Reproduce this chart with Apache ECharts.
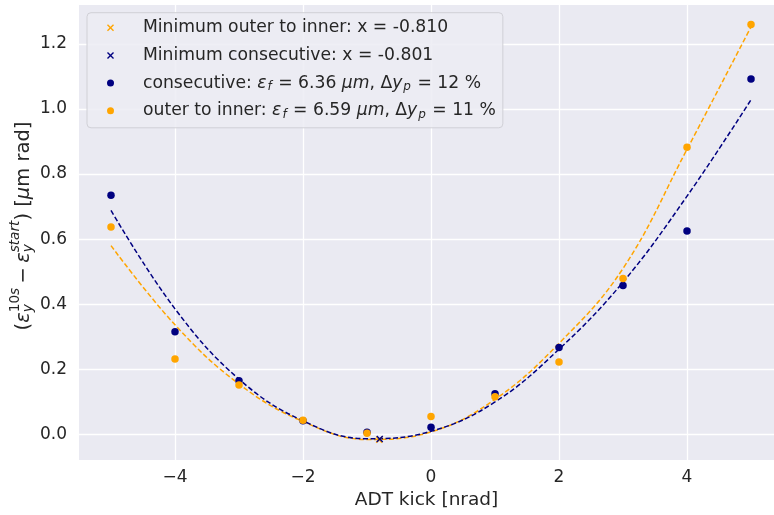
<!DOCTYPE html>
<html>
<head>
<meta charset="utf-8">
<script src="https://cdn.jsdelivr.net/npm/echarts@6/dist/echarts.min.js"></script>
<style>
  html, body { margin: 0; padding: 0; background: #fff; }
  #chart { width: 774px; height: 515px; }
</style>
</head>
<body>
<div id="chart"></div>
<script>
// kick values and measured emittance growth
const kicks = [-5, -4, -3, -2, -1, 0, 1, 2, 3, 4, 5];
const consecutivePts = [0.735, 0.316, 0.165, 0.042, 0.007, 0.022, 0.125, 0.267, 0.458, 0.625, 1.092];
const outerPts = [0.637, 0.232, 0.152, 0.044, 0.004, 0.055, 0.116, 0.223, 0.479, 0.882, 1.259];

// fitted curves
const fitX = [-5, -4, -3, -2, -1, 0, 1, 2, 3, 4, 5];
const consecutiveFit = [0.688, 0.386, 0.170, 0.042, -0.013, 0.010, 0.100, 0.262, 0.468, 0.732, 1.028];
const outerFit = [0.580, 0.337, 0.155, 0.040, -0.015, 0.008, 0.108, 0.280, 0.510, 0.876, 1.252];

// fit minima
const minOuter = [-0.810, -0.016];
const minConsecutive = [-0.801, -0.014];

const xTicks = [-4, -2, 0, 2, 4];
const yTicks = [0, 0.2, 0.4, 0.6, 0.8, 1.0, 1.2];

const NAVY = '#000080';
const ORANGE = '#FFA500';
const INK = '#262626';
const FONT = 'DejaVu Sans';
const X_SYMBOL = 'path://M0,1.4L1.4,0L5,3.6L8.6,0L10,1.4L6.4,5L10,8.6L8.6,10L5,6.4L1.4,10L0,8.6L3.6,5Z';

const zip = (xs, ys) => xs.map((x, i) => [x, ys[i]]);
const minus = v => (v < 0 ? '\u2212' + Math.abs(v) : String(v));

const legendText = {
    minOuter: 'Minimum outer to inner: x = -0.810',
    minCons: 'Minimum consecutive: x = -0.801',
    cons: 'consecutive: {it|\u03b5}{sub|f} = 6.36 {it|\u03bcm}, \u0394{it|y}{sub|p} = 12 %',
    outer: 'outer to inner: {it|\u03b5}{sub|f} = 6.59 {it|\u03bcm}, \u0394{it|y}{sub|p} = 11 %'
};

// y label with stacked sub/superscripts, laid out by hand
const measure = document.createElement('canvas').getContext('2d');
const textWidth = (t, s, it) => {
    measure.font = (it ? 'italic ' : '') + s + 'px "' + FONT + '"';
    return measure.measureText(t).width;
};
const LF = 19.5, LS = LF * 0.7;
const yLabelParts = [
    [{ t: '(' }],
    [{ t: '\u03b5', i: true }],
    { sub: [{ t: 'y', i: true }], sup: [{ t: '10' }, { t: 's', i: true }] },
    [{ t: '\u2212', pad: 0.22 * LF }],
    [{ t: '\u03b5', i: true }],
    { sub: [{ t: 'y', i: true }], sup: [{ t: 'start', i: true }] },
    [{ t: ')' }],
    [{ t: ' [' }],
    [{ t: '\u03bc', i: true }],
    [{ t: 'm rad]' }]
];

function buildYLabel() {
    const items = [];
    let x = 0;
    const run = (toks, x0, size, dy) => {
        let cx = x0;
        toks.forEach(tok => {
            cx += tok.pad || 0;
            items.push({ t: tok.t, x: cx, s: size, i: !!tok.i, dy: dy });
            cx += textWidth(tok.t, size, tok.i) + (tok.pad || 0);
        });
        return cx - x0;
    };
    yLabelParts.forEach(part => {
        if (Array.isArray(part)) {
            x += run(part, x, LF, 0);
        } else {
            const w1 = run(part.sub, x, LS, 0.24 * LF);
            const w2 = run(part.sup, x, LS, -0.42 * LF);
            x += Math.max(w1, w2);
        }
    });
    const half = x / 2;
    return items.map(it => ({
        type: 'text',
        x: it.x - half,
        y: it.dy,
        style: {
            text: it.t,
            fontSize: it.s,
            fontFamily: FONT,
            fontStyle: it.i ? 'italic' : 'normal',
            fill: INK,
            verticalAlign: 'middle',
            align: 'left'
        }
    }));
}

const chart = echarts.init(document.getElementById('chart'), null, { renderer: 'canvas' });

const option = {
    animation: false,
    backgroundColor: '#ffffff',
    grid: {
        left: 79,
        right: 0,
        top: 5,
        bottom: 54.5,
        show: true,
        backgroundColor: '#EAEAF2',
        borderWidth: 0
    },
    legend: {
        orient: 'vertical',
        left: 87,
        top: 12.7,
        padding: [5, 7, 7, 20],
        itemGap: 7.7,
        itemWidth: 7,
        itemHeight: 7,
        backgroundColor: 'rgba(236,236,243,0.85)',
        borderColor: '#D0D0D6',
        borderWidth: 1,
        borderRadius: 4,
        selectedMode: false,
        data: ['minOuter', 'minCons', 'cons', 'outer'],
        formatter: name => '{sp|}' + legendText[name],
        textStyle: {
            fontSize: 17.2,
            fontFamily: FONT,
            color: INK,
            lineHeight: 20,
            rich: {
                sp: { width: 24 },
                it: { fontStyle: 'italic', fontSize: 17.2, fontFamily: FONT, color: INK, lineHeight: 20 },
                sub: { fontStyle: 'italic', fontSize: 12, fontFamily: FONT, color: INK, lineHeight: 12, verticalAlign: 'bottom', padding: [0, 1, 0, 1] }
            }
        }
    },
    xAxis: {
        type: 'value',
        min: -5.5,
        max: 5.359,
        name: 'ADT kick [nrad]',
        nameLocation: 'middle',
        nameGap: 31,
        nameTextStyle: { fontSize: 18.5, fontFamily: FONT, color: INK },
        axisLine: { show: false },
        axisTick: { show: false, customValues: xTicks },
        axisLabel: {
            customValues: xTicks,
            formatter: minus,
            fontSize: 17,
            fontFamily: FONT,
            color: INK,
            margin: 9
        },
        splitLine: { show: true, lineStyle: { color: '#ffffff', width: 1.3 } }
    },
    yAxis: {
        type: 'value',
        min: -0.0782,
        max: 1.319,
        axisLine: { show: false },
        axisTick: { show: false, customValues: yTicks },
        axisLabel: {
            customValues: yTicks,
            formatter: v => v.toFixed(1),
            fontSize: 17,
            fontFamily: FONT,
            color: INK,
            margin: 12
        },
        splitLine: { show: true, lineStyle: { color: '#ffffff', width: 1.3 } }
    },
    graphic: [{
        type: 'group',
        x: 24,
        y: 226,
        rotation: Math.PI / 2,
        children: buildYLabel()
    }],
    series: [
        {
            name: 'fitOuter',
            type: 'line',
            data: zip(fitX, outerFit),
            smooth: 0.4,
            showSymbol: false,
            silent: true,
            z: 2,
            lineStyle: { color: ORANGE, width: 1.5, type: [5, 2.5] }
        },
        {
            name: 'fitCons',
            type: 'line',
            data: zip(fitX, consecutiveFit),
            smooth: 0.4,
            showSymbol: false,
            silent: true,
            z: 3,
            lineStyle: { color: NAVY, width: 1.5, type: [5, 2.5] }
        },
        {
            name: 'cons',
            type: 'scatter',
            data: zip(kicks, consecutivePts),
            symbol: 'circle',
            symbolSize: 7.5,
            itemStyle: { color: NAVY, opacity: 1 },
            z: 4
        },
        {
            name: 'outer',
            type: 'scatter',
            data: zip(kicks, outerPts),
            symbol: 'circle',
            symbolSize: 7.5,
            itemStyle: { color: ORANGE, opacity: 1 },
            z: 5
        },
        {
            name: 'minOuter',
            type: 'scatter',
            data: [minOuter],
            symbol: X_SYMBOL,
            symbolSize: 7,
            itemStyle: { color: ORANGE, opacity: 1 },
            z: 6
        },
        {
            name: 'minCons',
            type: 'scatter',
            data: [minConsecutive],
            symbol: X_SYMBOL,
            symbolSize: 7,
            itemStyle: { color: NAVY, opacity: 1 },
            z: 7
        }
    ]
};

chart.setOption(option);
window.addEventListener('resize', chart.resize);
</script>
</body>
</html>
